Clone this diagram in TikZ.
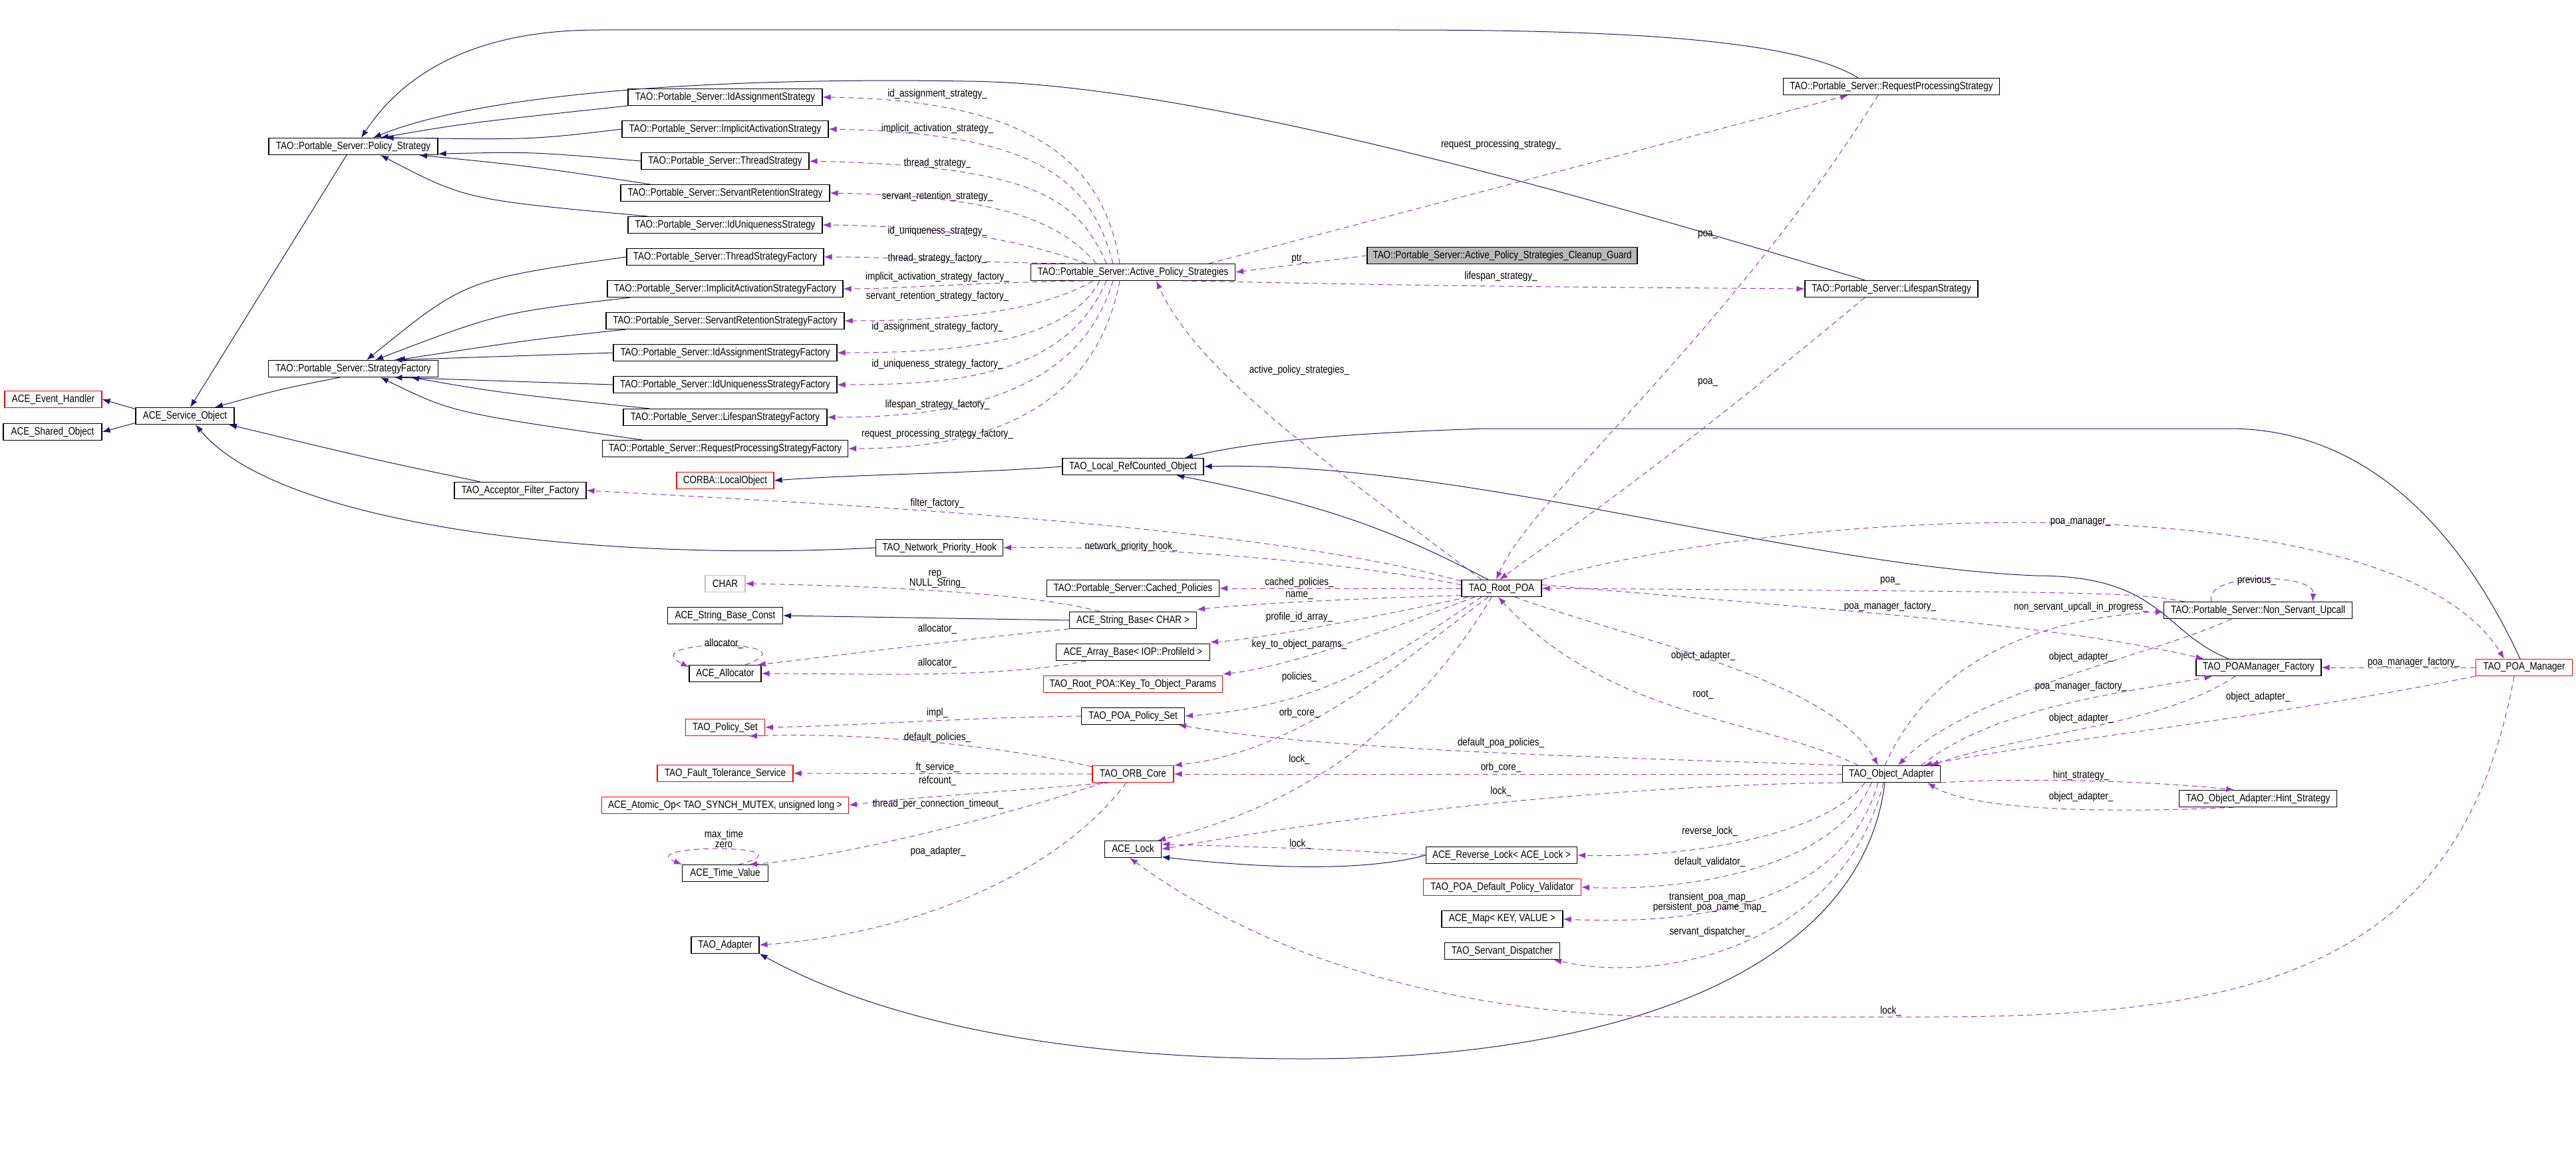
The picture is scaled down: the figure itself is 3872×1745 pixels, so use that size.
\documentclass[tikz,border=0pt]{standalone}
\usepackage{fontspec}
\setmainfont{Liberation Sans}
\usetikzlibrary{arrows.meta}
\definecolor{navy}{RGB}{25,25,112}
\definecolor{orch}{RGB}{153,50,204}
\newcommand\T[1]{\scalebox{0.84}[1]{#1}}
\tikzset{
 bx/.style={draw=black,line width=1.1pt,minimum height=25,inner sep=0,font=\fontsize{16}{17}\selectfont},
 rbx/.style={bx,draw=red},
 gbx/.style={bx,draw=gray!50},
 inh/.style={draw=navy,line width=1pt,-{Latex[length=12pt,width=9pt]}},
 use/.style={draw=orch,line width=1pt,dash pattern=on 8pt off 6pt,-{Latex[length=12pt,width=9pt]}},
 lab/.style={inner sep=0,font=\fontsize{16}{17}\selectfont,align=center},
}
\begin{document}
\begin{tikzpicture}[x=1pt,y=-1pt]
\path[use as bounding box,fill=white] (0,0) rectangle (3872,1745);
% nodes
\node[bx,minimum width=254] (ps) at (531,220) {\T{TAO::Portable\_Server::Policy\_Strategy}};
\node[bx,minimum width=292] (ias) at (1090,146) {\T{TAO::Portable\_Server::IdAssignmentStrategy}};
\node[bx,minimum width=310] (iac) at (1090,194) {\T{TAO::Portable\_Server::ImplicitActivationStrategy}};
\node[bx,minimum width=252] (ts) at (1090,242) {\T{TAO::Portable\_Server::ThreadStrategy}};
\node[bx,minimum width=314] (srs) at (1090,290) {\T{TAO::Portable\_Server::ServantRetentionStrategy}};
\node[bx,minimum width=292] (ius) at (1090,338) {\T{TAO::Portable\_Server::IdUniquenessStrategy}};
\node[bx,minimum width=296] (tsf) at (1090,386) {\T{TAO::Portable\_Server::ThreadStrategyFactory}};
\node[bx,minimum width=354] (iasf) at (1090,434) {\T{TAO::Portable\_Server::ImplicitActivationStrategyFactory}};
\node[bx,minimum width=358] (srsf) at (1090,482) {\T{TAO::Portable\_Server::ServantRetentionStrategyFactory}};
\node[bx,minimum width=336] (iafs) at (1090,530) {\T{TAO::Portable\_Server::IdAssignmentStrategyFactory}};
\node[bx,minimum width=336] (iusf) at (1090,578) {\T{TAO::Portable\_Server::IdUniquenessStrategyFactory}};
\node[bx,minimum width=306] (lsf) at (1090,627) {\T{TAO::Portable\_Server::LifespanStrategyFactory}};
\node[bx,minimum width=369] (rpsf) at (1090,674) {\T{TAO::Portable\_Server::RequestProcessingStrategyFactory}};
\node[bx,minimum width=255] (sf) at (531,554) {\T{TAO::Portable\_Server::StrategyFactory}};
\node[rbx,minimum width=146] (evh) at (80,600) {\T{ACE\_Event\_Handler}};
\node[bx,minimum width=148] (sho) at (79,649) {\T{ACE\_Shared\_Object}};
\node[bx,minimum width=148] (svc) at (278,625) {\T{ACE\_Service\_Object}};
\node[bx,minimum width=307] (aps) at (1703,409) {\T{TAO::Portable\_Server::Active\_Policy\_Strategies}};
\node[bx,minimum width=406,fill=gray!55] (cg) at (2258,384) {\T{TAO::Portable\_Server::Active\_Policy\_Strategies\_Cleanup\_Guard}};
\node[bx,minimum width=325] (rps) at (2843,130) {\T{TAO::Portable\_Server::RequestProcessingStrategy}};
\node[bx,minimum width=260] (ls) at (2843,434) {\T{TAO::Portable\_Server::LifespanStrategy}};
\node[bx,minimum width=198] (aff) at (782,737) {\T{TAO\_Acceptor\_Filter\_Factory}};
\node[rbx,minimum width=146] (lo) at (1090,722) {\T{CORBA::LocalObject}};
\node[gbx,minimum width=60] (chr) at (1090,877) {\T{CHAR}};
\node[bx,minimum width=173] (sbc) at (1090,925) {\T{ACE\_String\_Base\_Const}};
\node[bx,minimum width=108] (alloc) at (1090,1012) {\T{ACE\_Allocator}};
\node[rbx,minimum width=119] (tps) at (1090,1093) {\T{TAO\_Policy\_Set}};
\node[rbx,minimum width=204] (ft) at (1090,1162) {\T{TAO\_Fault\_Tolerance\_Service}};
\node[rbx,minimum width=371] (atom) at (1090,1210) {\T{ACE\_Atomic\_Op< TAO\_SYNCH\_MUTEX, unsigned long >}};
\node[bx,minimum width=129] (tv) at (1090,1312) {\T{ACE\_Time\_Value}};
\node[bx,minimum width=102] (ta) at (1090,1420) {\T{TAO\_Adapter}};
\node[bx,minimum width=212] (lrc) at (1703,701) {\T{TAO\_Local\_RefCounted\_Object}};
\node[bx,minimum width=191] (nph) at (1412,823) {\T{TAO\_Network\_Priority\_Hook}};
\node[bx,minimum width=259] (cp) at (1703,884) {\T{TAO::Portable\_Server::Cached\_Policies}};
\node[bx,minimum width=191] (sb) at (1703,932) {\T{ACE\_String\_Base< CHAR >}};
\node[bx,minimum width=231] (ab) at (1703,980) {\T{ACE\_Array\_Base< IOP::ProfileId >}};
\node[rbx,minimum width=269] (kto) at (1703,1028) {\T{TAO\_Root\_POA::Key\_To\_Object\_Params}};
\node[bx,minimum width=155] (pps) at (1703,1076) {\T{TAO\_POA\_Policy\_Set}};
\node[rbx,minimum width=122] (orb) at (1703,1163) {\T{TAO\_ORB\_Core}};
\node[bx,minimum width=85] (lock) at (1703,1276) {\T{ACE\_Lock}};
\node[bx,minimum width=227] (rl) at (2257,1285) {\T{ACE\_Reverse\_Lock< ACE\_Lock >}};
\node[rbx,minimum width=237] (dpv) at (2258,1333) {\T{TAO\_POA\_Default\_Policy\_Validator}};
\node[bx,minimum width=182] (map) at (2258,1381) {\T{ACE\_Map< KEY, VALUE >}};
\node[bx,minimum width=173] (sd) at (2258,1429) {\T{TAO\_Servant\_Dispatcher}};
\node[bx,minimum width=120] (root) at (2257,884) {\T{TAO\_Root\_POA}};
\node[bx,minimum width=147] (oa) at (2843,1163) {\T{TAO\_Object\_Adapter}};
\node[bx,minimum width=283] (nsu) at (3394,917) {\T{TAO::Portable\_Server::Non\_Servant\_Upcall}};
\node[bx,minimum width=188] (pmf) at (3395,1003) {\T{TAO\_POAManager\_Factory}};
\node[rbx,minimum width=145] (pm) at (3794,1003) {\T{TAO\_POA\_Manager}};
\node[bx,minimum width=237] (hs) at (3394,1200) {\T{TAO\_Object\_Adapter::Hint\_Strategy}};
% inheritance
\draw[inh] (svc.172) -- (evh.east);
\draw[inh] (svc.188) -- (sho.east);
\draw[inh] ([xshift=-10]ps.south) -- ([xshift=8]svc.north);
\draw[inh] ([xshift=-20]sf.south) .. controls (420,585) .. ([xshift=45]svc.north);
\draw[inh] ([xshift=-60]aff.north) .. controls (560,690) .. ([xshift=66]svc.south);
\draw[inh] (nph.west) .. controls (900,845) and (420,790) .. ([xshift=16]svc.south);
\draw[inh] (ias.south west) .. controls (700,185) .. ([xshift=41]ps.north);
\draw[inh] (iac.west) .. controls (800,210) .. (ps.15);
\draw[inh] (ts.west) .. controls (800,228) .. (ps.-5);
\draw[inh] ([xshift=45]srs.north west) .. controls (800,250) .. ([xshift=99]ps.south);
\draw[inh] ([xshift=30]ius.north west) .. controls (700,300) .. ([xshift=41]ps.south);
\draw[inh] ([xshift=-50]rps.north) .. controls (2700,60) and (2450,45) .. (2100,45) -- (900,45) .. controls (700,45) and (600,120) .. ([xshift=12]ps.north);
\draw[inh] ([xshift=-40]ls.north) .. controls (2400,300) and (1800,124) .. (1450,122) .. controls (1000,115) and (700,150) .. ([xshift=30]ps.north);
\draw[inh] (tsf.west) .. controls (700,420) .. ([xshift=20]sf.north);
\draw[inh] ([xshift=35]iasf.south west) .. controls (750,470) .. ([xshift=33]sf.north);
\draw[inh] ([xshift=30]srsf.south west) .. controls (800,510) .. ([xshift=66]sf.north);
\draw[inh] (iafs.west) -- (sf.12);
\draw[inh] (iusf.west) -- (sf.-12);
\draw[inh] ([xshift=40]lsf.north west) .. controls (750,590) .. ([xshift=87]sf.south);
\draw[inh] ([xshift=60]rpsf.north west) .. controls (680,620) .. ([xshift=41]sf.south);
\draw[inh] (lrc.west) .. controls (1450,712) and (1300,712) .. (lo.east);
\draw[inh] ([xshift=-20]root.north) .. controls (2100,800) and (2000,760) .. ([xshift=65]lrc.south);
\draw[inh] ([xshift=-45]pmf.north) .. controls (3250,950) and (3250,865) .. (3060,865) .. controls (2700,850) and (2200,692) .. (lrc.east);
\draw[inh] ([xshift=-6]pm.north) .. controls (3700,800) and (3560,644) .. (3350,644) -- (2233,644) .. controls (2050,650) and (1900,660) .. ([xshift=78]lrc.north);
\draw[inh] (sb.west) -- (sbc.east);
\draw[inh] (rl.west) .. controls (2050,1310) and (1900,1305) .. (lock.-15);
\draw[inh] ([xshift=-10]oa.south) .. controls (2800,1450) and (2450,1591) .. (1960,1591) .. controls (1550,1591) and (1300,1520) .. (ta.south east);
% Active_Policy_Strategies members
\draw[use] ([xshift=-20]aps.north) .. controls (1660,250) and (1560,150) .. (ias.east);
\draw[use] ([xshift=-30]aps.north) .. controls (1640,270) and (1560,200) .. (iac.east);
\draw[use] ([xshift=-40]aps.north) .. controls (1620,300) and (1560,250) .. (ts.east);
\draw[use] ([xshift=-55]aps.north) .. controls (1590,330) and (1500,295) .. (srs.east);
\draw[use] ([xshift=-70]aps.north) .. controls (1560,370) and (1450,340) .. (ius.east);
\draw[use] (aps.170) .. controls (1450,395) and (1350,386) .. (tsf.east);
\draw[use] (aps.190) .. controls (1450,425) and (1350,434) .. (iasf.east);
\draw[use] ([xshift=-60]aps.south) .. controls (1560,470) and (1420,482) .. (srsf.east);
\draw[use] ([xshift=-50]aps.south) .. controls (1600,520) and (1420,530) .. (iafs.east);
\draw[use] ([xshift=-40]aps.south) .. controls (1600,570) and (1420,578) .. (iusf.east);
\draw[use] ([xshift=-30]aps.south) .. controls (1620,600) and (1420,627) .. (lsf.east);
\draw[use] ([xshift=-20]aps.south) .. controls (1640,650) and (1420,674) .. (rpsf.east);
\draw[use] ([xshift=-40]aps.north east) -- ([xshift=-65]rps.south);
\draw[use] (cg.west) -- (aps.east);
\draw[use] (aps.-10) .. controls (2200,430) .. (ls.west);
\draw[use] ([xshift=-30]root.north) .. controls (2000,700) and (1800,560) .. ([xshift=35]aps.south);
\draw[use] ([xshift=-20]rps.south) .. controls (2600,500) and (2300,750) .. ([xshift=-8]root.north);
\draw[use] ([xshift=-40]ls.south) .. controls (2500,700) and (2350,800) .. ([xshift=-3]root.north);
% Root_POA members
\draw[use] (root.170) .. controls (1900,790) and (1300,760) .. (aff.east);
\draw[use] (root.175) .. controls (2000,840) and (1700,820) .. (nph.east);
\draw[use] (root.west) -- (cp.east);
\draw[use] (root.190) .. controls (2000,900) and (1850,910) .. ([yshift=3]sb.north east);
\draw[use] ([xshift=-50]root.south) .. controls (2100,920) and (1900,960) .. ([yshift=2]ab.north east);
\draw[use] ([xshift=-40]root.south) .. controls (2100,940) and (1950,1000) .. ([yshift=2]kto.north east);
\draw[use] ([xshift=-30]root.south) .. controls (2100,980) and (2000,1060) .. (pps.east);
\draw[use] ([xshift=-20]root.south) .. controls (2100,1000) and (1950,1130) .. (orb.north east);
\draw[use] ([xshift=-15]root.south) .. controls (2150,1050) and (2000,1200) .. ([xshift=-6]lock.north east);
\draw[use] ([xshift=-50]sb.north) .. controls (1550,890) and (1300,880) .. (chr.east);
\draw[use] (sb.south west) .. controls (1450,960) and (1300,980) .. (alloc.15);
\draw[use] ([xshift=-70]ab.south) .. controls (1500,1020) and (1300,1012) .. (alloc.east);
\draw[use] ([xshift=30]alloc.north) .. controls (1230,960) and (950,960) .. (alloc.170);
\draw[use] (pps.west) .. controls (1450,1078) and (1300,1090) .. (tps.east);
\draw[use] ([yshift=-2]orb.north west) .. controls (1500,1120) and (1300,1100) .. (tps.-20);
\draw[use] (orb.west) -- (ft.east);
\draw[use] (orb.200) .. controls (1500,1190) and (1350,1200) .. (atom.east);
\draw[use] ([xshift=-45]orb.south) .. controls (1500,1230) and (1250,1290) .. (tv.20);
\draw[use] ([xshift=20]tv.north) .. controls (1230,1268) and (950,1268) .. (tv.north west);
\draw[use] ([xshift=-10]orb.south) .. controls (1600,1300) and (1400,1400) .. (ta.east);
% Object adapter members
\draw[use] (oa.170) .. controls (2500,1140) and (2000,1130) .. ([xshift=-10]pps.south east);
\draw[use] (oa.west) -- (orb.east);
\draw[use] (oa.190) .. controls (2400,1180) and (2000,1230) .. (lock.east);
\draw[use] (rl.west) .. controls (2000,1276) .. (lock.10);
\draw[use] ([xshift=-40]oa.south) .. controls (2750,1250) and (2550,1290) .. (rl.east);
\draw[use] ([xshift=-30]oa.south) .. controls (2760,1300) and (2550,1340) .. (dpv.east);
\draw[use] ([xshift=-20]oa.south) .. controls (2770,1360) and (2550,1390) .. (map.east);
\draw[use] ([xshift=-12]oa.south) .. controls (2770,1420) and (2500,1480) .. ([xshift=-10]sd.south east);
\draw[use] ([xshift=-15]pm.south) .. controls (3700,1450) and (3400,1528) .. (2900,1528) -- (2500,1528) .. controls (2100,1520) and (1850,1400) .. ([xshift=-5]lock.south);
\draw[use] ([xshift=20]root.south) .. controls (2450,960) and (2750,1020) .. ([xshift=-20]oa.north);
\draw[use] ([xshift=-50]oa.north) .. controls (2650,1080) and (2420,1080) .. ([xshift=-5]root.south);
\draw[use] ([xshift=-110]nsu.north) .. controls (3200,890) .. (root.east);
\draw[use] ([xshift=-70]nsu.north) .. controls (3310,860) and (3480,860) .. ([xshift=-60]nsu.north east);
\draw[use] ([xshift=-40]nsu.south) .. controls (3250,980) and (2960,1040) .. ([xshift=10]oa.north);
\draw[use] ([xshift=-10]oa.north) .. controls (2900,1000) and (3050,930) .. ([yshift=-2]nsu.west);
\draw[use] (root.5) .. controls (2800,920) and (3100,940) .. ([xshift=12]pmf.north west);
\draw[use] ([xshift=45]oa.north) .. controls (3000,1060) and (3200,1040) .. ([xshift=25]pmf.south west);
\draw[use] ([xshift=-35]pmf.south) .. controls (3250,1090) and (3050,1100) .. ([xshift=-15]oa.north east);
\draw[use] (pm.west) -- (pmf.east);
\draw[use] (pm.south west) .. controls (3400,1080) and (3100,1110) .. (oa.15);
\draw[use] (root.north east) .. controls (2700,760) and (3600,720) .. ([xshift=-30]pm.north);
\draw[use] (oa.-10) .. controls (3000,1170) and (3200,1170) .. (hs.160);
\draw[use] (hs.200) .. controls (3100,1225) and (2950,1210) .. ([xshift=-20]oa.south east);
% labels
\node[lab] (l1) at (1409,141) {\T{id\_assignment\_strategy\_}};
\node[lab] (l2) at (1409,193) {\T{implicit\_activation\_strategy\_}};
\node[lab] (l3) at (1409,245) {\T{thread\_strategy\_}};
\node[lab] (l4) at (1409,295) {\T{servant\_retention\_strategy\_}};
\node[lab] (l5) at (1409,347) {\T{id\_uniqueness\_strategy\_}};
\node[lab] (l6) at (1409,388) {\T{thread\_strategy\_factory\_}};
\node[lab] (l7) at (1409,416) {\T{implicit\_activation\_strategy\_factory\_}};
\node[lab] (l8) at (1409,445) {\T{servant\_retention\_strategy\_factory\_}};
\node[lab] (l9) at (1409,491) {\T{id\_assignment\_strategy\_factory\_}};
\node[lab] (l10) at (1409,547) {\T{id\_uniqueness\_strategy\_factory\_}};
\node[lab] (l11) at (1409,608) {\T{lifespan\_strategy\_factory\_}};
\node[lab] (l12) at (1409,652) {\T{request\_processing\_strategy\_factory\_}};
\node[lab] (l13) at (2256,217) {\T{request\_processing\_strategy\_}};
\node[lab] (l14) at (1953,389) {\T{ptr\_}};
\node[lab] (l15) at (2256,415) {\T{lifespan\_strategy\_}};
\node[lab] (l16) at (1953,556) {\T{active\_policy\_strategies\_}};
\node[lab] (l17) at (2567,353) {\T{poa\_}};
\node[lab] (l18) at (2567,575) {\T{poa\_}};
\node[lab] (l19) at (1409,756) {\T{filter\_factory\_}};
\node[lab] (l20) at (1700,821) {\T{network\_priority\_hook\_}};
\node[lab] (l21) at (1409,870) {\T{rep\_}\\[-2pt]\T{NULL\_String\_}};
\node[lab] (l22) at (1953,875) {\T{cached\_policies\_}};
\node[lab] (l23) at (1953,895) {\T{name\_}};
\node[lab] (l24) at (1409,945) {\T{allocator\_}};
\node[lab] (l25) at (1953,927) {\T{profile\_id\_array\_}};
\node[lab] (l26) at (1409,996) {\T{allocator\_}};
\node[lab] (l27) at (1953,968) {\T{key\_to\_object\_params\_}};
\node[lab] (l28) at (1953,1017) {\T{policies\_}};
\node[lab] (l29) at (1409,1071) {\T{impl\_}};
\node[lab] (l30) at (1953,1071) {\T{orb\_core\_}};
\node[lab] (l31) at (1409,1108) {\T{default\_policies\_}};
\node[lab] (l32) at (2256,1116) {\T{default\_poa\_policies\_}};
\node[lab] (l33) at (1953,1141) {\T{lock\_}};
\node[lab] (l34) at (1409,1153) {\T{ft\_service\_}};
\node[lab] (l35) at (2256,1153) {\T{orb\_core\_}};
\node[lab] (l36) at (1409,1173) {\T{refcount\_}};
\node[lab] (l37) at (2256,1189) {\T{lock\_}};
\node[lab] (l38) at (2560,985) {\T{object\_adapter\_}};
\node[lab] (l39) at (2560,1044) {\T{root\_}};
\node[lab] (l40) at (1088,967) {\T{allocator\_}};
\node[lab] (l41) at (1088,1260) {\T{max\_time}\\[-2pt]\T{zero}};
\node[lab] (l42) at (3127,785) {\T{poa\_manager\_}};
\node[lab] (l43) at (2841,873) {\T{poa\_}};
\node[lab] (l44) at (3392,872) {\T{previous\_}};
\node[lab] (l45) at (2841,911) {\T{poa\_manager\_factory\_}};
\node[lab] (l46) at (3128,912) {\T{non\_servant\_upcall\_in\_progress\_}};
\node[lab] (l47) at (3128,987) {\T{object\_adapter\_}};
\node[lab] (l48) at (3628,995) {\T{poa\_manager\_factory\_}};
\node[lab] (l49) at (3128,1031) {\T{poa\_manager\_factory\_}};
\node[lab] (l50) at (3394,1047) {\T{object\_adapter\_}};
\node[lab] (l51) at (3128,1079) {\T{object\_adapter\_}};
\node[lab] (l52) at (3128,1165) {\T{hint\_strategy\_}};
\node[lab] (l53) at (3128,1197) {\T{object\_adapter\_}};
\node[lab] (l54) at (1410,1208) {\T{thread\_per\_connection\_timeout\_}};
\node[lab] (l55) at (1410,1279) {\T{poa\_adapter\_}};
\node[lab] (l56) at (1954,1268) {\T{lock\_}};
\node[lab] (l57) at (2570,1249) {\T{reverse\_lock\_}};
\node[lab] (l58) at (2570,1295) {\T{default\_validator\_}};
\node[lab] (l59) at (2570,1356) {\T{transient\_poa\_map\_}\\[-2pt]\T{persistent\_poa\_name\_map\_}};
\node[lab] (l60) at (2570,1400) {\T{servant\_dispatcher\_}};
\node[lab] (l61) at (2842,1519) {\T{lock\_}};
\end{tikzpicture}
\end{document}
